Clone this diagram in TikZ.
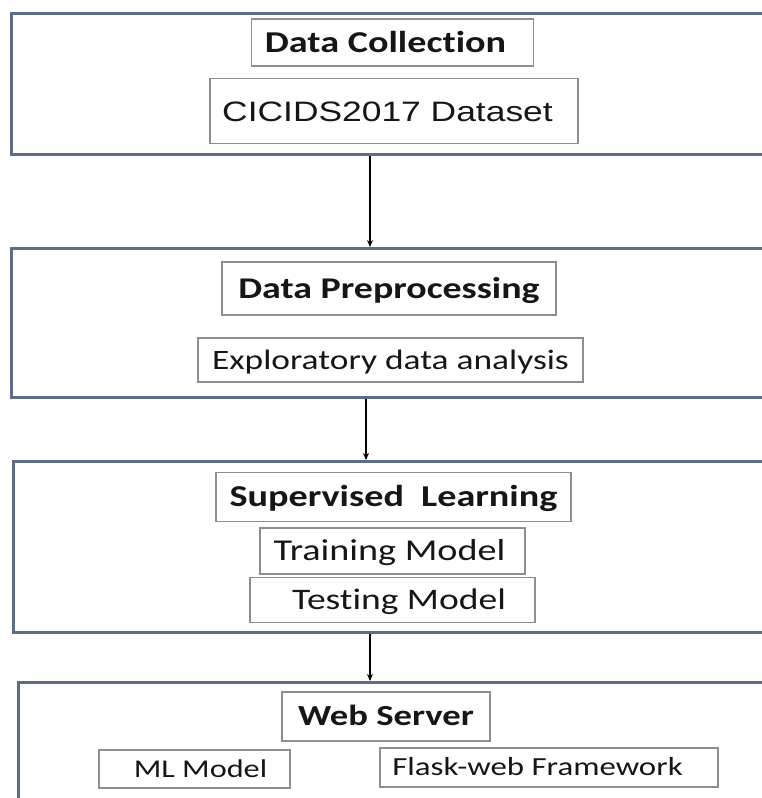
\documentclass[tikz,border=0pt]{standalone}
\usepackage{graphicx}
\usepackage{fontspec}
\setmainfont{Carlito}[Ligatures={NoCommon}]
\newfontfamily\arialfont{Liberation Sans}
\usetikzlibrary{arrows.meta}
\definecolor{framecol}{HTML}{5E6C8A}
\definecolor{boxcol}{HTML}{8E8E8E}
\definecolor{inkcol}{HTML}{161616}
% all lettering is set a little wide
\newcommand{\wide}[1]{\scalebox{1.26}[1]{#1}}
\tikzset{
  stage/.style={draw=framecol, line width=2.6pt, rectangle, inner sep=0pt, anchor=north west},
  item/.style={draw=boxcol, line width=1.3pt, rectangle, inner sep=0pt, text=inkcol, text depth=0pt},
  % Carlito at a given size, with the text box as tall as its capitals
  cal/.style={font=\fontsize{#1}{#1}\selectfont, text height=0.644*#1 pt},
  calb/.style={font=\fontsize{#1}{#1}\selectfont\bfseries, text height=0.644*#1 pt},
  flow/.style={draw=black, line width=1.3pt, -{Stealth[length=7pt,width=6pt]}}
}
\begin{document}
\begin{tikzpicture}[x=1pt,y=-1pt]
\useasboundingbox (0,0) rectangle (762,798);
\clip (0,0) rectangle (762,798);
\fill[white] (0,0) rectangle (762,798);

% stage frames (they run past the right edge)
\node[stage, minimum width=790pt, minimum height=141pt] (s1) at (10,12) {};
\node[stage, minimum width=790pt, minimum height=149pt] (s2) at (10,247) {};
\node[stage, minimum width=790pt, minimum height=171pt] (s3) at (12,460) {};
\node[stage, minimum width=790pt, minimum height=160pt] (s4) at (17,681) {};

% stage 1
\node[item, calb=30.3, minimum width=282pt, minimum height=47pt] (dc) at (392.5,42.5)
  {\wide{Data Collection}\hspace*{14pt}};
\node[item, minimum width=368pt, minimum height=65pt, text height=20.1pt,
  font=\arialfont\fontsize{28.1}{30}\selectfont] (cic) at (394,111)
  {\wide{CICIDS2017 Dataset}\hspace*{13pt}};

% stage 2
\node[item, calb=30.1, minimum width=334pt, minimum height=53pt] (dp) at (389,288.5)
  {\wide{Data Preprocessing}};
\node[item, cal=28.1, minimum width=385pt, minimum height=44pt] (eda) at (390.5,360)
  {\wide{Exploratory data analysis}};

% stage 3
\node[item, calb=30.3, minimum width=355pt, minimum height=49pt] (sl) at (393.5,497)
  {\wide{Supervised\hspace{0.45em}Learning}};
\node[item, cal=30.3, minimum width=265pt, minimum height=46pt] (tr) at (392.5,551)
  {\wide{Training Model}\hspace*{6pt}};
\node[item, cal=29.8, minimum width=285pt, minimum height=45pt] (te) at (392.5,600)
  {\hspace*{13pt}\wide{Testing Model}};

% stage 4
\node[item, calb=29.1, minimum width=208pt, minimum height=49pt] (ws) at (386,716.5)
  {\wide{Web Server}};
\node[item, cal=25.6, minimum width=191pt, minimum height=38pt] (ml) at (194.5,769)
  {\hspace*{12pt}\wide{ML Model}};
\node[item, cal=26.1, minimum width=338pt, minimum height=39pt] (fl) at (549,767.5)
  {\wide{Flask-web Framework}\hspace*{23pt}};

% flow between stages
\coordinate (f1) at (370,0);
\coordinate (f2) at (366,0);
\coordinate (f3) at (370,0);
\draw[flow] (s1.south -| f1) -- (s2.north -| f1);
\draw[flow] (s2.south -| f2) -- (s3.north -| f2);
\draw[flow] (s3.south -| f3) -- (s4.north -| f3);
\end{tikzpicture}
\end{document}
